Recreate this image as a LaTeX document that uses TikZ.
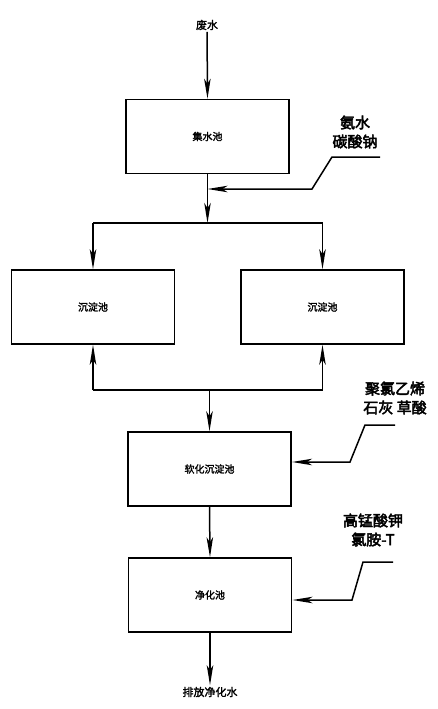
\documentclass[tikz,border=0pt]{standalone}
\usepackage{fontspec}
\newfontfamily\cjk[FakeBold=2]{Noto Sans CJK SC}
\newfontfamily\cjkb[FakeBold=3]{Noto Sans CJK SC}
\usetikzlibrary{arrows.meta}
\begin{document}
\begin{tikzpicture}[x=1pt,y=-1pt,
  line width=1.5pt,
  pool/.style={draw,line width=1.6pt,minimum width=163pt,minimum height=74pt,font=\cjk\fontsize{10}{12}\selectfont,inner sep=0pt},
  arr/.style={-{Stealth[length=20pt,width=6.5pt,inset=5pt]}},
  side/.style={font=\cjkb\fontsize{15}{19}\selectfont,align=center,inner sep=0pt},
  term/.style={font=\cjk\fontsize{11}{13}\selectfont,inner sep=1pt}]
\useasboundingbox (0,0) rectangle (438,709);
% nodes
\node[term] (fs) at (207,25) {废水};
\node[pool] (b1) at (207.5,136.5) {集水池};
\node[pool] (b2) at (93,307) {沉淀池};
\node[pool] (b3) at (322.5,307) {沉淀池};
\node[pool] (b4) at (209.5,469) {软化沉淀池};
\node[pool] (b5) at (210,595) {净化池};
\node[term] (out) at (210,692) {排放净化水};
\node[side] (s1) at (355,132) {氨水\\碳酸钠};
\node[side] (s2) at (395,398) {聚氯乙烯\\石灰 草酸};
\node[side] (s3) at (373,530) {高锰酸钾\\氯胺-T};
% coordinates
\coordinate (j1) at (207.5,223);
\coordinate (L1) at (93,223);
\coordinate (R1) at (322.5,223);
\coordinate (m1) at (207.5,189);
\coordinate (a1) at (380,157);
\coordinate (a2) at (332,157);
\coordinate (a3) at (312,189);
\coordinate (L2) at (93,390);
\coordinate (R2) at (322.5,390);
\coordinate (j2) at (209.5,390);
\coordinate (c1) at (395,425);
\coordinate (c2) at (365,425);
\coordinate (c3) at (350,462);
\coordinate (m2) at (292,462);
\coordinate (d1) at (393,562);
\coordinate (d2) at (363,562);
\coordinate (d3) at (352,600);
\coordinate (m3) at (292.5,600);
% connectors
\draw[arr] (fs) -- (b1.north);
\draw[arr] (b1.south) -- (j1);
\draw (L1) -- (R1);
\draw[arr] (L1) -- (b2.north);
\draw[arr] (R1) -- (b3.north);
\draw[arr] (a1) -- (a2) -- (a3) -- (m1);
\draw (L2) -- (R2);
\draw[arr] (L2) -- (b2.south);
\draw[arr] (R2) -- (b3.south);
\draw[arr] (j2) -- (b4.north);
\draw[arr] (c1) -- (c2) -- (c3) -- (m2);
\draw[arr] (b4.south) -- (b5.north);
\draw[arr] (d1) -- (d2) -- (d3) -- (m3);
\draw[arr] (b5.south) -- (out);
\end{tikzpicture}
\end{document}
